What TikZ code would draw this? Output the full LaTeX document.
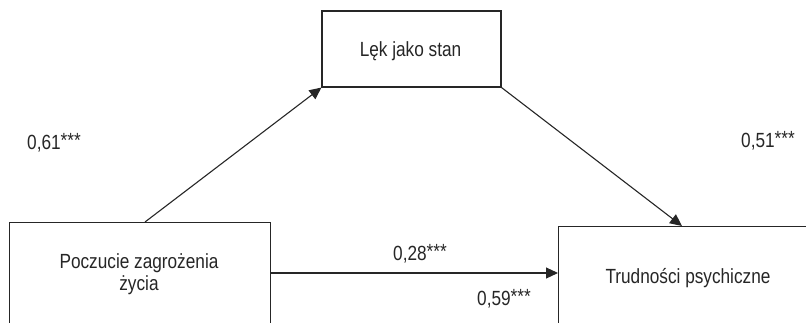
\documentclass[tikz,border=0pt]{standalone}
\usepackage{fontspec}
\setmainfont{Liberation Sans}[FakeStretch=0.84]
\usetikzlibrary{arrows.meta,calc}
\definecolor{ink}{HTML}{262626}
% significance marks, set at full size and lifted a little
\newcommand{\sigmarks}{\raisebox{1.5pt}{***}}
\begin{document}
\begin{tikzpicture}[x=1pt,y=1pt,
  font=\fontsize{20.5}{22}\selectfont,
  box/.style={draw=ink, line width=1.1pt, fill=white, inner sep=0pt},
  lbl/.style={text=ink, inner sep=0pt},
  arr/.style={draw=ink, line width=1.1pt, -{Triangle[length=12pt,width=11pt]}}]
  \useasboundingbox (0,0) rectangle (806,322);
  \clip (0,0) rectangle (806,322);

  % boxes
  \node[box, minimum width=179pt, minimum height=76pt] (anx) at (411.5,273) {};
  \node[box, minimum width=261pt, minimum height=120pt, anchor=north west] (threat) at (9,100) {};
  \node[box, minimum width=260pt, minimum height=120pt, anchor=north west] (dist) at (558,96) {};

  % box texts
  \node[lbl, anchor=base] (anxT) at (410.5,265) {Lęk jako stan};
  \node[lbl, anchor=base] (threatT1) at (139,54) {Poczucie zagrożenia};
  \node[lbl, anchor=base] (threatT2) at (139,32) {życia};
  \node[lbl, anchor=base] (distT) at (688,39) {Trudności psychiczne};

  % paths
  \coordinate (hline) at (0,49);
  \draw[arr] ([xshift=136pt]threat.north west) -- (anx.south west);
  \draw[arr] (anx.south east) -- ([xshift=124pt]dist.north west);
  \draw[arr] (threat.east |- hline) -- (dist.west |- hline);

  % coefficients
  \node[lbl, anchor=base west] (c61) at (27,173) {0,61\sigmarks};
  \node[lbl, anchor=base west] (c51) at (741,175) {0,51\sigmarks};
  \node[lbl, anchor=base west] (c28) at (393,62) {0,28\sigmarks};
  \node[lbl, anchor=base west] (c59) at (477,17) {0,59\sigmarks};
\end{tikzpicture}
\end{document}
